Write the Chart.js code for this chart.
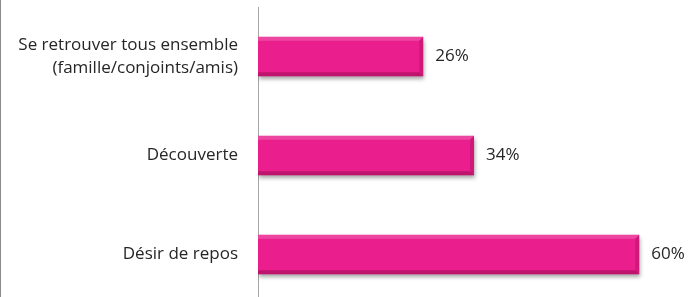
<!DOCTYPE html>
<html>
<head>
<meta charset="utf-8">
<script src="https://cdn.jsdelivr.net/npm/chart.js@4/dist/chart.umd.min.js"></script>
<style>
  html, body { margin: 0; padding: 0; background: #fff; overflow: hidden; }
  #wrap { position: relative; width: 689px; height: 297px; overflow: hidden; }
  #wrap:before { content: ""; position: absolute; left: 0; top: 0; bottom: 0; width: 1px; background: #8c8c8c; z-index: 2; }
</style>
</head>
<body>
<div id="wrap"><canvas id="myChart" width="689" height="304"></canvas></div>
<script>
// categories (top to bottom) and values in %
var categories = [["Se retrouver tous ensemble", "(famille/conjoints/amis)"], "Découverte", "Désir de repos"]
var values = [26, 34, 60]
var axisMax = 65

var barColor = "#EA1E8D"
var textColor = "#262626"
var fontFamily = "'Open Sans', sans-serif"

// draws a soft shadow under the bars and a bevel on top of them
var bevelPlugin = {
    id: "bevel",
    beforeDatasetsDraw: function(chart){
        var ctx = chart.ctx
        ctx.save()
        ctx.shadowColor = "rgba(0,0,0,0.35)"
        ctx.shadowBlur = 4
        ctx.shadowOffsetY = 3
        ctx.shadowOffsetX = 1
    },
    afterDatasetsDraw: function(chart){
        var ctx = chart.ctx
        ctx.restore()
        var meta = chart.getDatasetMeta(0)
        var b = 4
        meta.data.forEach(function(bar){
            var l = bar.base, r = bar.x
            var t = bar.y - bar.height / 2, btm = bar.y + bar.height / 2
            ctx.save()
            // top edge, light
            ctx.fillStyle = "rgba(255,255,255,0.18)"
            ctx.beginPath()
            ctx.moveTo(l, t); ctx.lineTo(r, t); ctx.lineTo(r - b, t + b); ctx.lineTo(l, t + b)
            ctx.closePath(); ctx.fill()
            // bottom edge, dark
            ctx.fillStyle = "rgba(90,0,40,0.3)"
            ctx.beginPath()
            ctx.moveTo(l, btm); ctx.lineTo(r, btm); ctx.lineTo(r - b, btm - b); ctx.lineTo(l, btm - b)
            ctx.closePath(); ctx.fill()
            // right end
            ctx.fillStyle = "rgba(90,0,40,0.18)"
            ctx.beginPath()
            ctx.moveTo(r, t); ctx.lineTo(r, btm); ctx.lineTo(r - b, btm - b); ctx.lineTo(r - b, t + b)
            ctx.closePath(); ctx.fill()
            ctx.restore()
        })
    }
}

// value labels after each bar
var valueLabels = {
    id: "valueLabels",
    afterDraw: function(chart){
        var ctx = chart.ctx
        var meta = chart.getDatasetMeta(0)
        ctx.save()
        ctx.font = "17px " + fontFamily
        ctx.fillStyle = textColor
        ctx.textAlign = "left"
        ctx.textBaseline = "middle"
        meta.data.forEach(function(bar, i){
            ctx.fillText(values[i] + "%", bar.x + 12, bar.y)
        })
        ctx.restore()
    }
}

var ctx = document.querySelector("#myChart").getContext("2d")
var myChart = new Chart(ctx, {
    type: "bar",
    data: {
        labels: categories,
        datasets: [{
            data: values,
            backgroundColor: barColor,
            borderWidth: 0,
            categoryPercentage: 1,
            barPercentage: 0.4
        }]
    },
    options: {
        indexAxis: "y",
        responsive: false,
        animation: false,
        layout: { padding: { top: 7, right: 18, bottom: 0, left: 0 } },
        plugins: { legend: { display: false }, tooltip: { enabled: false } },
        scales: {
            x: { display: false, min: 0, max: axisMax },
            y: {
                grid: { display: false, drawTicks: false },
                border: { color: "#a6a6a6", width: 1 },
                ticks: {
                    color: textColor,
                    padding: 20,
                    font: { family: fontFamily, size: 17, lineHeight: 1.38 }
                },
                afterFit: function(scale){
                    scale.width = 258
                    scale.paddingTop = 0
                    scale.paddingBottom = 0
                }
            }
        }
    },
    plugins: [bevelPlugin, valueLabels]
})
</script>
</body>
</html>
